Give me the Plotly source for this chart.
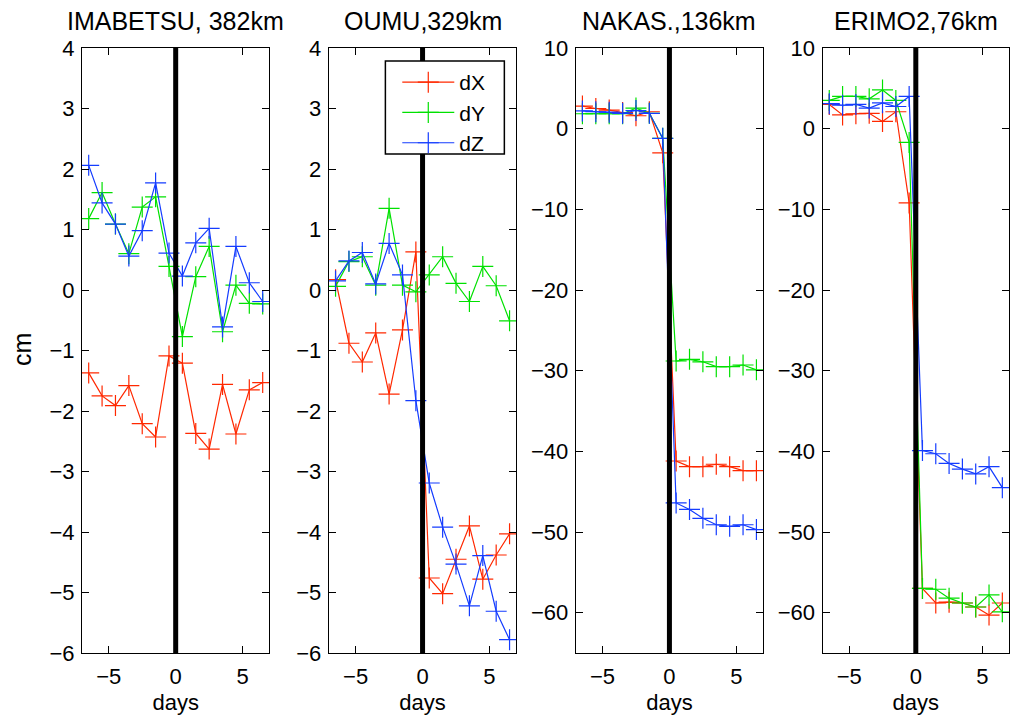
import plotly.graph_objects as go

days = [-6.5, -5.5, -4.5, -3.5, -2.5, -1.5, -0.5, 0.5, 1.5, 2.5, 3.5, 4.5, 5.5, 6.5]
quake_day = 0

stations = ["IMABETSU, 382km", "OUMU,329km", "NAKAS.,136km", "ERIMO2,76km"]

imabetsu_dx = [-1.37, -1.75, -1.91, -1.58, -2.21, -2.43, -1.09, -1.21, -2.37, -2.63, -1.56, -2.38, -1.65, -1.53]
imabetsu_dy = [1.18, 1.61, 1.09, 0.60, 1.37, 1.54, 0.39, -0.77, 0.22, 0.72, -0.69, 0.08, -0.22, -0.23]
imabetsu_dz = [2.06, 1.44, 1.09, 0.56, 0.98, 1.77, 0.61, 0.23, 0.78, 1.02, -0.61, 0.72, 0.12, -0.19]

oumu_dx = [0.17, -0.88, -1.19, -0.71, -1.72, -0.66, 0.63, -4.76, -5.02, -4.45, -3.90, -4.78, -4.38, -4.03]
oumu_dy = [0.06, 0.47, 0.55, 0.08, 1.35, 0.08, -0.03, 0.25, 0.55, 0.11, -0.19, 0.39, 0.07, -0.51]
oumu_dz = [0.15, 0.48, 0.62, 0.10, 0.77, 0.25, -1.83, -3.19, -3.92, -4.53, -5.22, -4.39, -5.31, -5.78]

nakas_dx = [2.8, 2.5, 2.3, 2.0, 1.6, 2.1, -3.0, -41.2, -41.9, -41.9, -41.6, -41.9, -42.4, -42.4]
nakas_dy = [1.85, 1.85, 1.85, 1.85, 2.55, 1.9, -1.2, -28.8, -28.6, -28.9, -29.5, -29.5, -29.3, -29.9]
nakas_dz = [2.2, 2.1, 2.05, 1.9, 2.25, 1.9, -1.2, -46.4, -47.2, -48.3, -49.1, -49.3, -49.1, -49.7]

erimo_dx = [3.0, 1.7, 1.85, 1.9, 0.9, 2.1, -9.2, -57.0, -58.8, -58.7, -58.8, -59.3, -60.3, -58.8]
erimo_dy = [3.5, 4.0, 4.0, 3.7, 4.8, 3.5, -1.7, -57.0, -57.1, -58.2, -58.8, -59.3, -57.8, -59.9]
erimo_dz = [3.1, 2.9, 3.0, 2.55, 3.2, 2.75, 4.0, -39.9, -40.3, -41.5, -42.2, -42.8, -41.9, -44.5]

series_names = ["dX", "dY", "dZ"]
colors = ["rgb(255,40,0)", "rgb(0,225,0)", "rgb(20,60,255)"]

data = [
    [imabetsu_dx, imabetsu_dy, imabetsu_dz],
    [oumu_dx, oumu_dy, oumu_dz],
    [nakas_dx, nakas_dy, nakas_dz],
    [erimo_dx, erimo_dy, erimo_dz],
]
y_ranges = [[-6, 4], [-6, 4], [-65, 10], [-65, 10]]
y_dticks = [1, 1, 10, 10]

# page body has an 8px margin: work in page pixels and subtract it
OFF = 8
RIGHT = 1009  # last visible page column used for the right-most axis
W, H = 1018 - 2 * OFF, 723 - 2 * OFF
ml, mt = 82 - OFF, 48 - OFF
mr = (W + OFF) - RIGHT
mb = (H + OFF) - 653
pw = W - ml - mr
ph = H - mt - mb
SCALE = (RIGHT - 82) / (1017 - 82)


def sx(p):
    # reference page px -> page px after slight horizontal compression
    return 82 + (p - 82) * SCALE


def px_x(p):
    return (sx(p) - OFF - ml) / pw


def px_y(p):
    return 1 - (p - OFF - mt) / ph


panel_px = [(82, 271), (331, 520), (580, 769), (829, 1017)]
domains = [[max(0.0, px_x(a)), min(1.0, px_x(b))] for a, b in panel_px]

FONT = "Liberation Sans, Arial, Helvetica, sans-serif"

fig = go.Figure()
for i in range(4):
    xa = "x" if i == 0 else f"x{i+1}"
    ya = "y" if i == 0 else f"y{i+1}"
    for j in range(3):
        fig.add_trace(go.Scatter(
            x=days, y=data[i][j], mode="lines+markers", name=series_names[j],
            xaxis=xa, yaxis=ya, showlegend=(i == 1),
            line=dict(color=colors[j], width=1.2),
            marker=dict(symbol="cross-thin", size=15, line=dict(color=colors[j], width=1.2)),
        ))
    # event marker line at the quake day
    fig.add_trace(go.Scatter(
        x=[quake_day, quake_day], y=y_ranges[i], mode="lines", showlegend=False,
        xaxis=xa, yaxis=ya, line=dict(color="black", width=5), hoverinfo="skip",
    ))

layout = dict(
    width=W, height=H,
    margin=dict(l=ml, r=mr, t=mt, b=mb, autoexpand=False),
    paper_bgcolor="white", plot_bgcolor="white",
    font=dict(family=FONT, size=20, color="black"),
    legend=dict(
        x=px_x(400), y=px_y(62), xanchor="left", yanchor="top",
        bgcolor="rgba(0,0,0,0)", borderwidth=0,
        font=dict(size=21, family=FONT), itemwidth=52, tracegroupgap=0,
    ),
    shapes=[dict(
        type="rect", xref="paper", yref="paper",
        x0=px_x(388), x1=px_x(508), y0=px_y(154), y1=px_y(61),
        line=dict(color="black", width=1.5), fillcolor="white", layer="above",
    )],
    annotations=[],
)

for i in range(4):
    xk = "xaxis" if i == 0 else f"xaxis{i+1}"
    yk = "yaxis" if i == 0 else f"yaxis{i+1}"
    xa = "x" if i == 0 else f"x{i+1}"
    ya = "y" if i == 0 else f"y{i+1}"
    layout[xk] = dict(
        domain=domains[i], range=[-7, 7], tickvals=[-5, 0, 5],
        ticks="inside", ticklen=7, tickcolor="black", mirror="ticks",
        showline=True, linecolor="black", linewidth=1.2, showgrid=False, zeroline=False,
        anchor=ya, tickfont=dict(size=22), ticklabelstandoff=3, automargin=False,
        title=dict(text="days", font=dict(size=22), standoff=14),
    )
    layout[yk] = dict(
        domain=[0, 1], range=y_ranges[i], dtick=y_dticks[i],
        ticks="inside", ticklen=7, tickcolor="black", mirror="ticks",
        showline=True, linecolor="black", linewidth=1.2, showgrid=False, zeroline=False,
        anchor=xa, tickfont=dict(size=22), ticklabelstandoff=2, automargin=False,
    )
    layout["annotations"].append(dict(
        text=stations[i], xref="paper", yref="paper",
        x=(domains[i][0] + domains[i][1]) / 2, y=px_y(21),
        xanchor="center", yanchor="middle", showarrow=False,
        font=dict(size=25, family=FONT),
    ))

layout["annotations"].append(dict(
    text="cm", xref="paper", yref="paper", x=(22 - OFF - ml) / pw, y=px_y(350),
    xanchor="center", yanchor="middle", textangle=-90, showarrow=False,
    font=dict(size=25, family=FONT),
))

fig.update_layout(**layout)
fig.write_html("out.html")
